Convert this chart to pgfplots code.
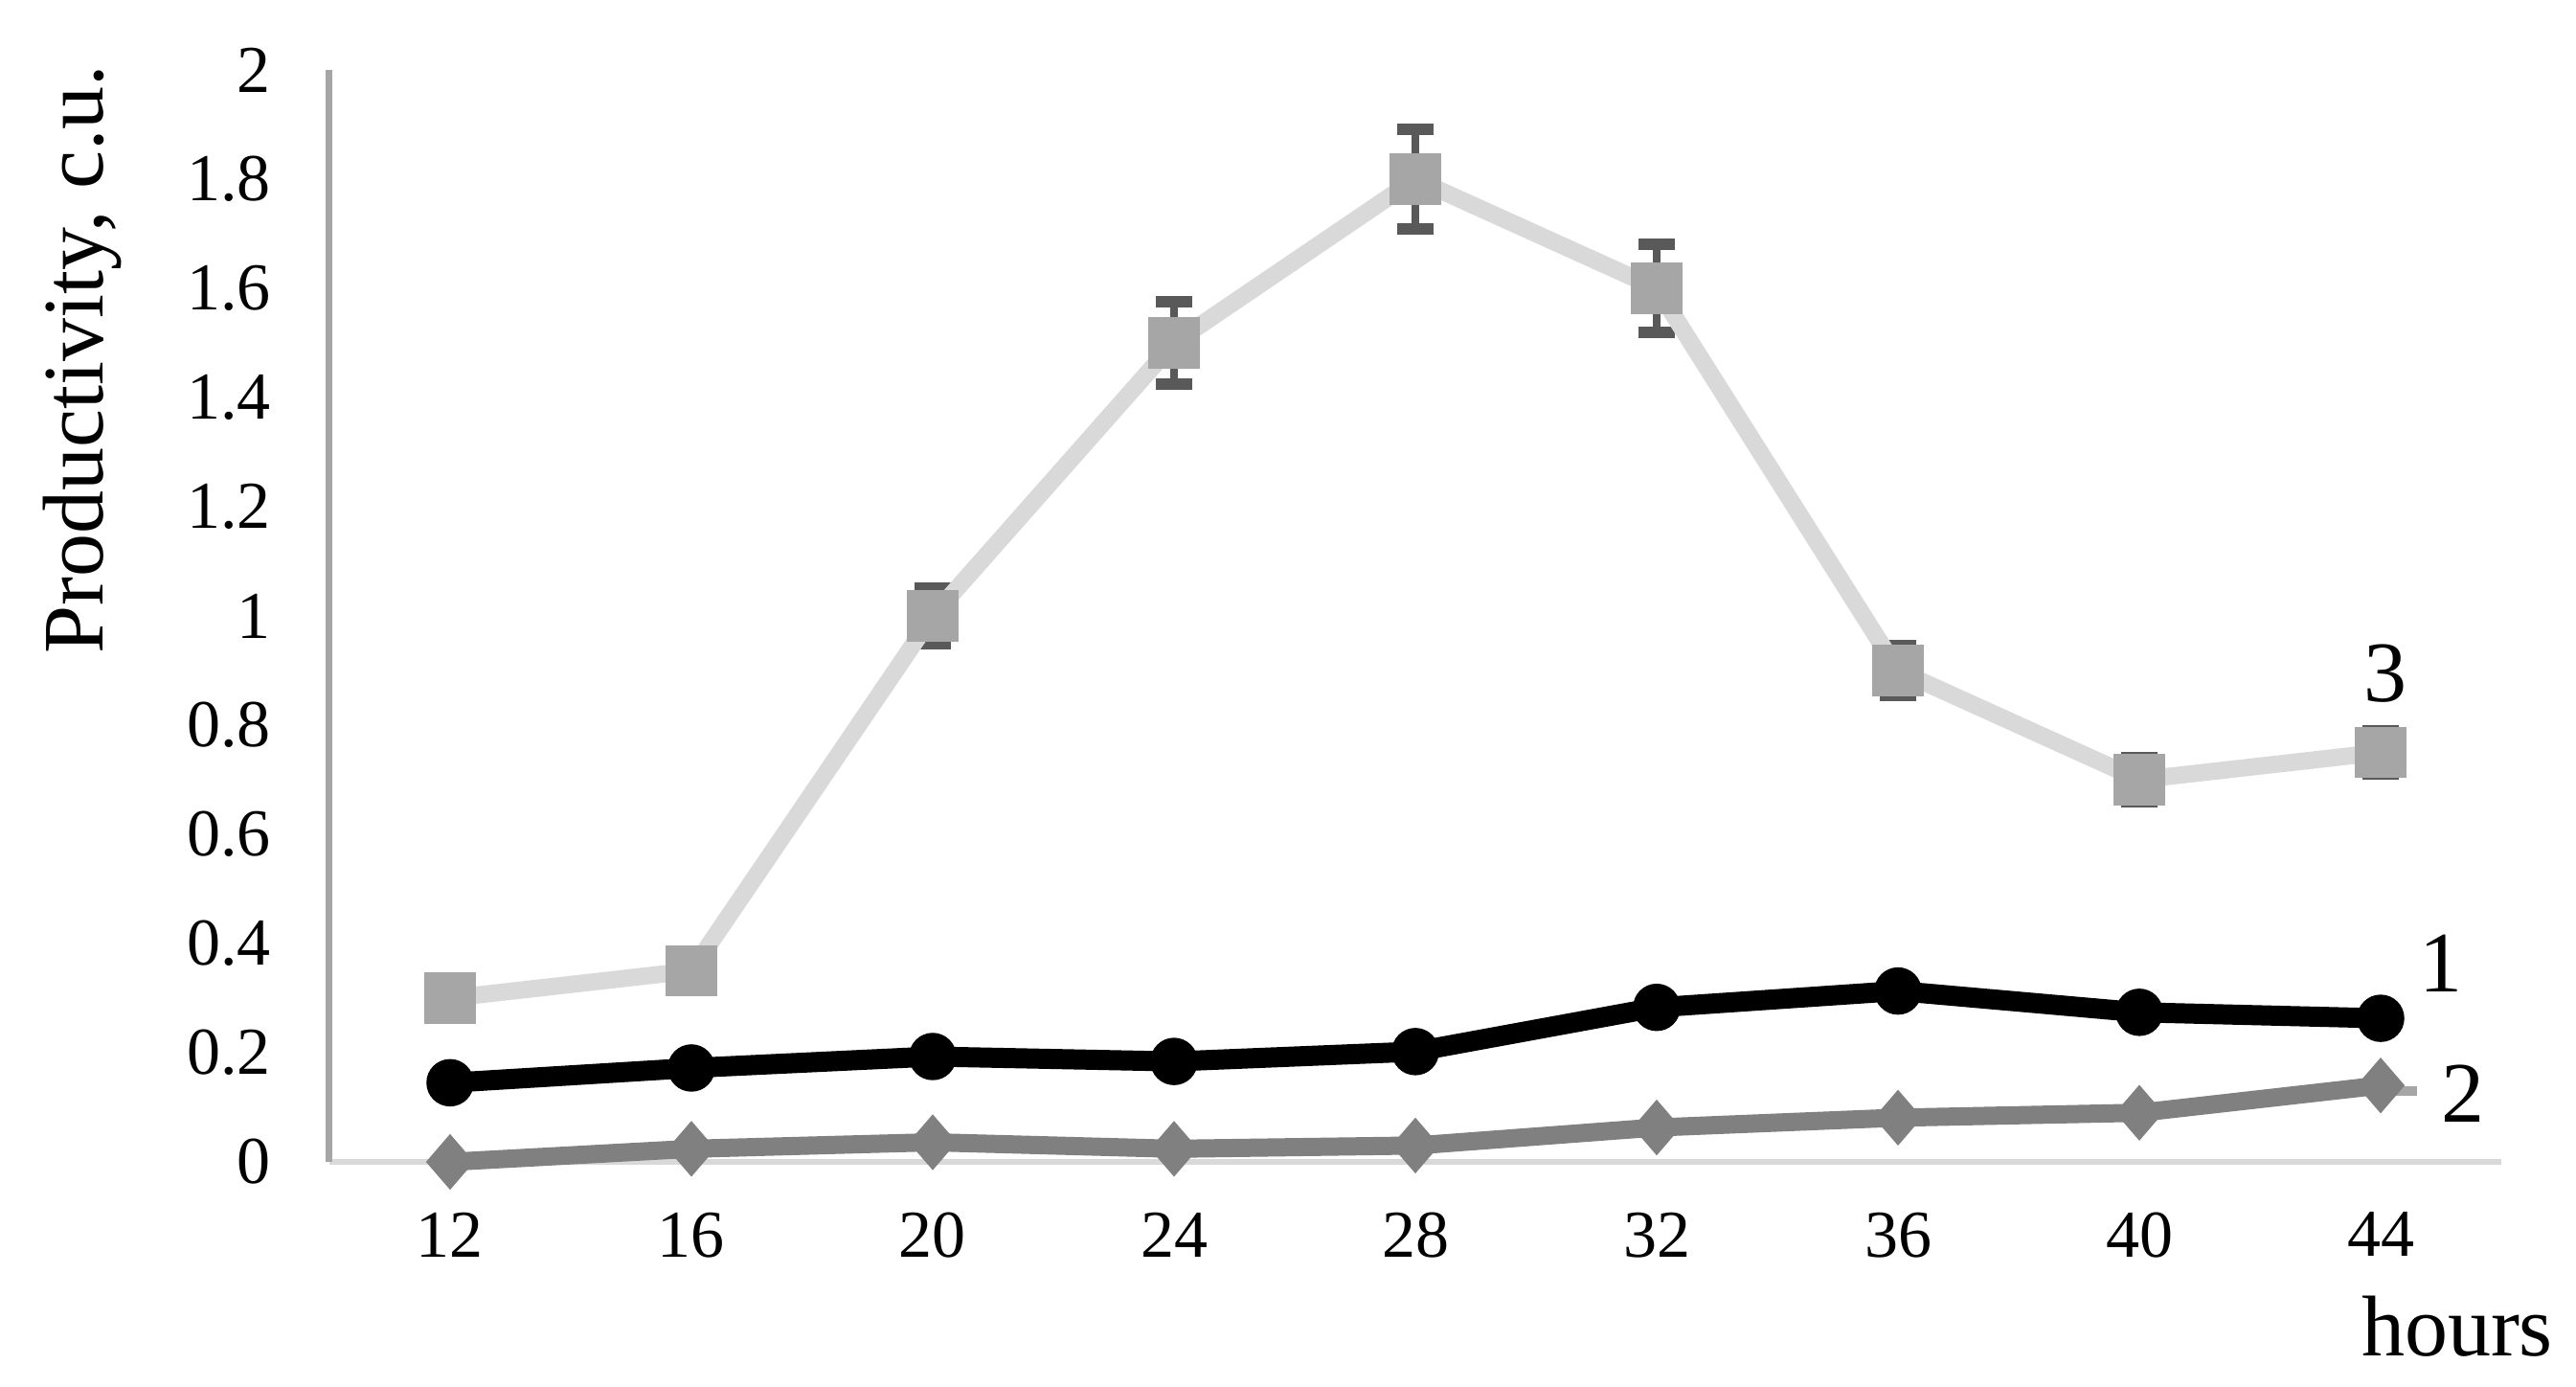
\documentclass[border=0pt]{standalone}
\usepackage{fontspec}
\setmainfont{Liberation Serif}
\usepackage{pgfplots}
\usepackage{pgfplotstable}
\pgfplotsset{compat=1.18}

\definecolor{blackline}{HTML}{000000}
\definecolor{midgray}{HTML}{808080}
\definecolor{lightline}{HTML}{D9D9D9}
\definecolor{markgray}{HTML}{A6A6A6}
\definecolor{errgray}{HTML}{595959}

% x = category index (12,16,...,44 hours)
\pgfplotstableread{
x  y1     y2     y3    e3
0  0.145  0.000  0.30  0.03
1  0.172  0.024  0.35  0.03
2  0.193  0.036  1.00  0.051
3  0.184  0.024  1.50  0.075
4  0.202  0.030  1.80  0.092
5  0.283  0.063  1.60  0.081
6  0.313  0.081  0.90  0.045
7  0.274  0.090  0.70  0.04
8  0.263  0.140  0.75  0.04
}\datatable

\begin{document}
\begin{tikzpicture}
\begin{axis}[
    scale only axis,
    width=453.6pt, height=228pt,
    xmin=-0.5, xmax=8.5,
    ymin=0, ymax=2,
    clip=false,
    axis x line=bottom,
    axis y line=left,
    x axis line style={-, draw=lightline, line width=1.35pt},
    y axis line style={-, draw=markgray, line width=1.4pt},
    major tick length=0pt,
    xtick={0,...,8},
    xticklabels={12,16,20,24,28,32,36,40,44},
    ytick={0,0.2,0.4,0.6,0.8,1,1.2,1.4,1.6,1.8,2},
    /pgf/number format/assume math mode=true,
    ticklabel style={font=\fontsize{14}{16}\selectfont},
    xticklabel style={yshift=-7pt},
    yticklabel style={xshift=-8.7pt},
]
\addplot[blackline, line width=4.2pt, mark=*, mark size=4.8pt,
    mark options={solid, fill=blackline, draw=blackline, line width=0.3pt}]
    table[x=x, y=y1] {\datatable};
\addplot[midgray, line width=3.8pt, mark=diamond*, mark size=5.6pt,
    mark options={solid, fill=midgray, draw=midgray, line width=0.3pt, xscale=1.15}]
    table[x=x, y=y2] {\datatable};
% error bars of series 3, drawn under its markers
\addplot[draw=none, mark=none, forget plot,
    error bars/.cd, y dir=both, y explicit,
    error mark=|,
    error bar style={draw=errgray, line width=1.6pt},
    error mark options={draw=errgray, line width=2.4pt, mark size=3.8pt}]
    table[x=x, y=y3, y error=e3] {\datatable};
\addplot[lightline, line width=3.6pt, mark=square*, mark size=5.2pt,
    mark options={solid, fill=markgray, draw=markgray, line width=0.3pt}]
    table[x=x, y=y3] {\datatable};

\draw[markgray, line width=2pt] (axis cs:8.0,0.13) -- (axis cs:8.15,0.13);
\node[font=\fontsize{18}{20}\selectfont] at (axis cs:8.02,0.895) {3};
\node[font=\fontsize{18}{20}\selectfont] at (axis cs:8.25,0.363) {1};
\node[font=\fontsize{18}{20}\selectfont] at (axis cs:8.34,0.125) {2};
\node[font=\fontsize{18}{20}\selectfont, anchor=base east, inner sep=0pt]
    at ([xshift=11pt, yshift=-40.4pt]rel axis cs:1,0) {hours};
\node[font=\fontsize{18}{20}\selectfont, rotate=90, anchor=base, inner sep=0pt]
    at ([xshift=-47.2pt]rel axis cs:0,0.735) {Productivity, c.u.};

\coordinate (bl) at (rel axis cs:0,0);
\coordinate (tr) at (rel axis cs:1,1);
\end{axis}
\pgfresetboundingbox
\path[use as bounding box] ([shift={(-68.8pt,-46.8pt)}]bl) rectangle ([shift={(15.6pt,14.6pt)}]tr);
\end{tikzpicture}
\end{document}
